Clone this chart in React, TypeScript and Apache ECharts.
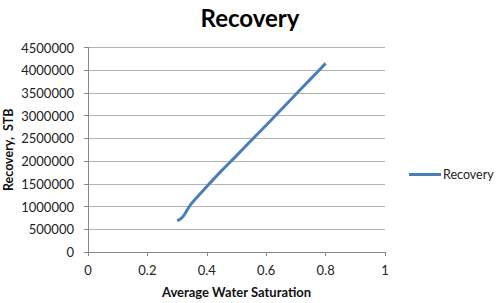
import React, { useEffect, useRef } from "react";
import * as echarts from "echarts";

const saturation = [0.3, 0.31, 0.32, 0.33, 0.34, 0.35, 0.4, 0.45, 0.5, 0.55, 0.6, 0.65, 0.7, 0.75, 0.8];
const recovery = [690000, 720000, 780000, 880000, 990000, 1080000, 1440000, 1790000, 2120000, 2460000, 2790000, 3130000, 3470000, 3810000, 4150000];
const seriesName = "Recovery";

export default function App() {
  const ref = useRef<HTMLDivElement>(null);
  useEffect(() => {
    if (!ref.current) return;
    const chart = echarts.init(ref.current, null, { renderer: "svg" });
    const font = "Lato, 'Open Sans', sans-serif";
    chart.setOption({
      animation: false,
      textStyle: { fontFamily: font },
      title: {
        text: "Recovery",
        left: 245,
        textAlign: "center",
        top: 0,
        textStyle: { fontSize: 24, fontWeight: "bold", color: "#000", fontFamily: font },
      },
      legend: {
        data: [seriesName],
        left: 409,
        top: 168,
        icon: "rect",
        itemWidth: 32,
        itemHeight: 3,
        itemGap: 2,
        padding: 0,
        textStyle: { fontSize: 12.5, color: "#222", fontFamily: font, padding: [0, 0, 0, -3] },
      },
      grid: { left: 88, right: 115, top: 47.5, bottom: 51, containLabel: false, outerBoundsMode: "none" },
      xAxis: {
        type: "value",
        min: 0,
        max: 1,
        interval: 0.2,
        name: "Average Water Saturation",
        nameLocation: "middle",
        nameGap: 33,
        nameMoveOverlap: false,
        nameTextStyle: { fontSize: 13, fontWeight: "bold", color: "#111", fontFamily: font },
        axisLine: { show: true, lineStyle: { color: "#888", width: 1 } },
        axisTick: { show: true, inside: false, length: 4, lineStyle: { color: "#888" } },
        axisLabel: { fontSize: 13, color: "#222", margin: 11, fontFamily: font },
        splitLine: { show: false },
      },
      yAxis: {
        type: "value",
        min: 0,
        max: 4500000,
        interval: 500000,
        name: "Recovery,  STB",
        nameLocation: "middle",
        nameGap: 73,
        nameMoveOverlap: false,
        nameTextStyle: { fontSize: 12.5, fontWeight: "bold", color: "#111", fontFamily: font },
        axisLine: { show: true, lineStyle: { color: "#888", width: 1 } },
        axisTick: { show: true, inside: false, length: 4, lineStyle: { color: "#888" } },
        axisLabel: { fontSize: 13, color: "#222", margin: 14, fontFamily: font, formatter: (v: number) => String(v) },
        splitLine: { show: true, lineStyle: { color: "#b3b3b3", width: 1 } },
      },
      series: [
        {
          name: seriesName,
          type: "line",
          data: saturation.map((x, i) => [x, recovery[i]]),
          showSymbol: false,
          smooth: 0.3,
          itemStyle: { color: "#4a7ebb" },
          lineStyle: { color: "#4a7ebb", width: 3 },
        },
      ],
    });
    return () => chart.dispose();
  }, []);
  return <div ref={ref} style={{ width: 500, height: 303, position: "absolute", left: 0, top: 0 }} />;
}
